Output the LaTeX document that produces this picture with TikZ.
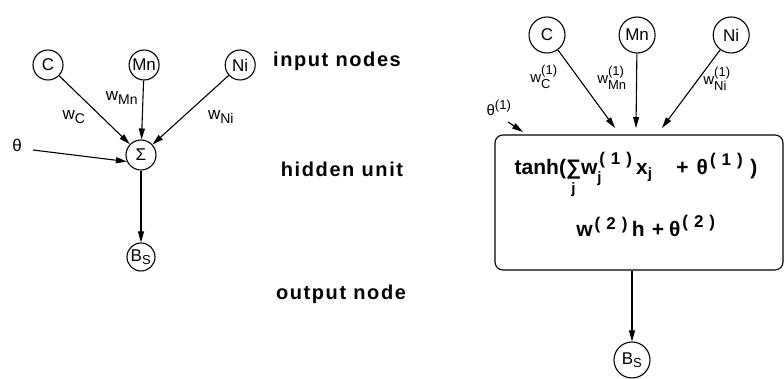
\documentclass[tikz,border=0pt]{standalone}
\usepackage{amsmath}
\usepackage{fontspec}
\setmainfont{Liberation Sans}
\newfontfamily\layerfont[LetterSpace=8]{Liberation Sans}
\usetikzlibrary{positioning,arrows.meta}
% script text at a fixed size
\newcommand{\sct}[2]{\text{\fontsize{#1}{#1}\selectfont #2}}
% spaced layer index (1), (2)
\newcommand{\lay}[1]{\sct{17}{\kern2pt(\kern6pt#1\kern6pt)}}

\begin{document}
\begin{tikzpicture}[x=1pt,y=1pt,
  unit/.style={circle, draw, line width=1.1pt, minimum size=30pt, inner sep=0pt,
               font=\fontsize{17}{17}\selectfont},
  bigunit/.style={unit, minimum size=36pt},
  wt/.style={inner sep=0pt, font=\fontsize{17}{17}\selectfont},
  wtsmall/.style={inner sep=0pt, font=\fontsize{15}{15}\selectfont},
  layer/.style={anchor=base, inner sep=0pt, font=\layerfont\bfseries\fontsize{20}{20}\selectfont},
  formula/.style={anchor=base, inner sep=0pt, font=\bfseries\fontsize{21}{21}\selectfont},
  link/.style={-{Triangle[length=11pt,width=6pt]}, line width=1.1pt},
  node distance=65pt]
\useasboundingbox (0,0) rectangle (784,379);

% Nodes (left net)
  \node[unit]                 (C)   at (48,314) {C};
  \node[unit, right=of C]     (Mn)  {Mn};
  \node[unit, right=of Mn]    (Ni)  {Ni};
  \node[unit]                 (Sig) at (141,224) {Σ};
  \node[unit, minimum size=28pt] (Bs) at (141,122) {$\text{B}_{\sct{13}{S}}$};
  \node[wt]                   (theta) at (17,234) {θ};

  \node[wt] (wC)  at (74,262)  {$\text{w}_{\sct{14}{C}}$};
  \node[wt] (wMn) at (122,281) {$\text{w}_{\sct{14}{Mn}}$};
  \node[wt] (wNi) at (221,262) {$\text{w}_{\sct{14}{Ni}}$};

% Layer names
  \node[layer] (inlbl)  at (337,312) {input nodes};
  \node[layer] (hidlbl) at (342,202) {hidden unit};
  \node[layer] (outlbl) at (341,79)  {output node};

% Nodes (right net)
  \node[bigunit]                           (C2)  at (547,344) {C};
  \node[bigunit, right=53pt of C2]         (Mn2) {Mn};
  \node[bigunit, right=57pt of Mn2]        (Ni2) {Ni};
  \node[draw, line width=1.1pt, rounded corners=8pt,
        minimum width=288pt, minimum height=135pt] (hidden) at (639,176.5) {};
  \node[formula] (act) at (636,204)
    {$\text{tanh(}\underset{\sct{15}{j}}{\text{∑}}\text{w}^{\lay{1}}_{\sct{15}{j}}\,\text{x}_{\sct{15}{j}}\hspace{24pt}\text{+}\hspace{8pt}\text{θ}^{\lay{1}}\hspace{7pt}\text{)}$};
  \node[formula] (out) at (646,142)
    {$\text{w}^{\lay{2}}\hspace{4pt}\text{h}\hspace{7pt}\text{+}\hspace{5pt}\text{θ}^{\lay{2}}$};
  \node[bigunit] (Bs2) at (632,19) {$\text{B}_{\sct{13}{S}}$};
  \node[wtsmall] (theta2) at (499,271) {$\text{θ}^{\sct{13}{(1)}}$};

  \node[wtsmall] (wC2)  at (544,302) {$\text{w}^{\sct{13}{(1)}}_{\sct{13}{C}}$};
  \node[wtsmall] (wMn2) at (612,301) {$\text{w}^{\sct{13}{(1)}}_{\sct{13}{Mn}}$};
  \node[wtsmall] (wNi2) at (717,300) {$\text{w}^{\sct{13}{(1)}}_{\sct{13}{Ni}}$};

  \coordinate (inC)  at (615,251);
  \coordinate (inMn) at (636,251);
  \coordinate (inNi) at (662,251);
  \coordinate (thStart) at (508,257);
  \coordinate (thEnd)   at (523,247);
  \coordinate (thL)     at (33,229);

% Edges
  \draw[link] (C)  -- (Sig);
  \draw[link] (Mn) -- (Sig);
  \draw[link] (Ni) -- (Sig);
  \draw[link] (thL) -- (Sig.205);
  \draw[link] (Sig) -- (Bs);

  \draw[link] (C2)  -- (inC);
  \draw[link] (Mn2) -- (inMn);
  \draw[link] (Ni2) -- (inNi);
  \draw[link] (thStart) -- (thEnd);
  \draw[link] (Bs2 |- hidden.south) -- (Bs2);

\end{tikzpicture}
\end{document}
